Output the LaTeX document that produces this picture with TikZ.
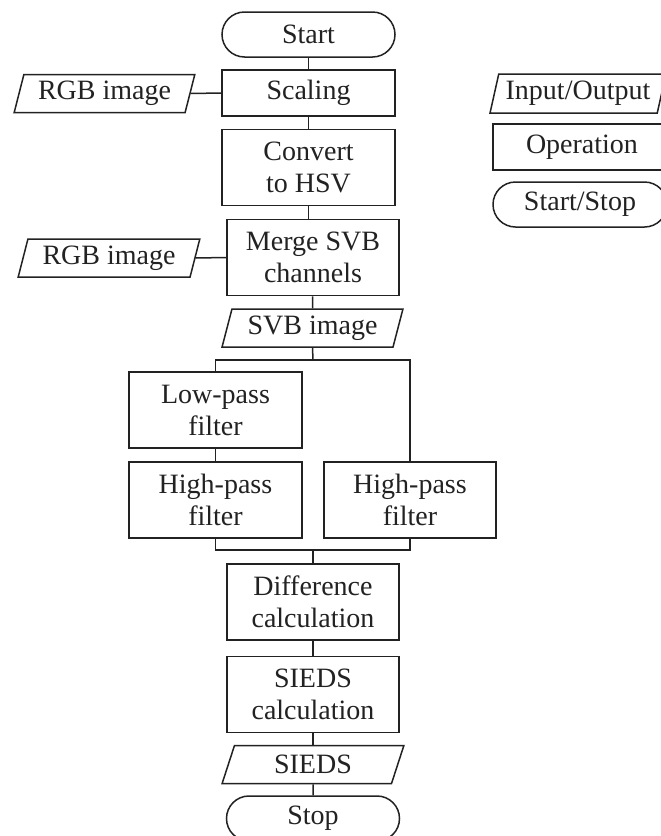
\documentclass[tikz,border=0pt]{standalone}
\usepackage{fontspec}
\setmainfont{Liberation Serif}
\usetikzlibrary{shapes.geometric}
\definecolor{ink}{RGB}{34,34,34}
\tikzset{
  every node/.style={font=\fontsize{28}{32}\selectfont, text=ink, align=center, inner sep=0pt},
  opbox/.style={draw=ink, line width=1.5pt, rectangle, minimum width=#1, minimum height=76pt},
  opbox/.default=173pt,
  shortop/.style={draw=ink, line width=1.5pt, rectangle, minimum width=#1, minimum height=46pt},
  shortop/.default=173pt,
  iobox/.style={draw=ink, line width=1.5pt, trapezium, trapezium left angle=72, trapezium right angle=108,
    trapezium stretches=true, minimum width=#1, minimum height=38pt},
  iobox/.default=182pt,
  termbox/.style={draw=ink, line width=1.5pt, rectangle, rounded corners=22.5pt,
    minimum width=#1, minimum height=45pt},
  termbox/.default=173pt,
  link/.style={draw=ink, line width=1.5pt}
}
\begin{document}
\begin{tikzpicture}[x=1pt, y=-1pt]
\useasboundingbox (0,0) rectangle (661,836);
\clip (0,0) rectangle (661,836);
\fill[white] (0,0) rectangle (661,836);

% main flow
\node[termbox] (start) at (308.5,34.5) {Start};
\node[shortop] (scaling) at (308.5,93) {Scaling};
\node[iobox=181pt] (rgbA) at (104.5,93.5) {RGB image};
\node[opbox] (convert) at (308.5,167.5) {Convert\\to HSV};
\node[opbox=172pt] (merge) at (313,257.5) {Merge SVB\\channels};
\node[iobox] (rgbB) at (109,258) {RGB image};
\node[iobox=181pt] (svb) at (312.5,328) {SVB image};

% two filter branches
\node[opbox] (lowpass) at (215.5,410) {Low-pass\\filter};
\node[opbox] (highA) at (215.5,500) {High-pass\\filter};
\node[opbox=172pt] (highB) at (410,500) {High-pass\\filter};

\node[opbox=172pt] (diff) at (313,602) {Difference\\calculation};
\node[opbox=172pt] (siedscalc) at (313,694.5) {SIEDS\\calculation};
\node[iobox] (siedsout) at (313,764.5) {SIEDS};
\node[termbox] (stop) at (313,818.5) {Stop};

% legend
\node[iobox=176pt, minimum height=39pt] (lgio) at (578,93.5) {Input/Output};
\node[shortop=178pt] (lgop) at (582,147) {Operation};
\node[termbox=174pt] (lgss) at (580,204.5) {Start/Stop};

% branch points
\coordinate (split) at (313,360);
\coordinate (join) at (313,550);

% connectors
\draw[link] (start) -- (scaling);
\draw[link] (rgbA.east) -- (scaling.west);
\draw[link] (scaling) -- (convert);
\draw[link] (convert.south) -- (convert.south |- merge.north);
\draw[link] (rgbB.east) -- (merge.west);
\draw[link] (merge) -- (svb);
\draw[link] (svb.south) -- (split);
\draw[link] (lowpass.north) -- (lowpass.north |- split) -- (highB.north |- split) -- (highB.north);
\draw[link] (lowpass) -- (highA);
\draw[link] (highA.south) -- (highA.south |- join) -- (highB.south |- join) -- (highB.south);
\draw[link] (join) -- (diff.north);
\draw[link] (diff) -- (siedscalc);
\draw[link] (siedscalc) -- (siedsout);
\draw[link] (siedsout) -- (stop);
\end{tikzpicture}
\end{document}
